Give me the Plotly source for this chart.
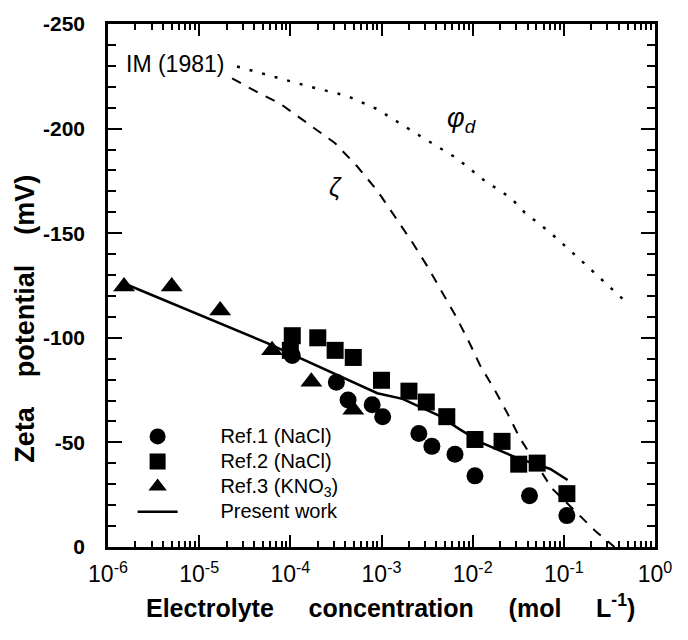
import plotly.graph_objects as go
import math

# ---- data ----
ref1_x = [1.05e-4, 3.2e-4, 4.3e-4, 7.9e-4, 1.03e-3, 2.57e-3, 3.57e-3, 6.4e-3, 1.06e-2, 4.2e-2, 0.108]
ref1_y = [-91.5, -78.8, -70.3, -68, -62.3, -54.2, -48.1, -44.3, -34, -24.5, -15]

ref2_x = [1.05e-4, 1.0e-4, 2.0e-4, 3.1e-4, 4.9e-4, 1.0e-3, 2.0e-3, 3.1e-3, 5.2e-3, 1.06e-2, 2.1e-2, 3.2e-2, 5.1e-2, 0.108]
ref2_y = [-101, -94, -100, -94, -90.6, -79.7, -74.5, -69.3, -62.3, -51.4, -50.5, -39.6, -40.1, -25.5]

ref3_x = [1.5e-6, 5.0e-6, 1.7e-5, 6.3e-5, 1.7e-4, 4.9e-4]
ref3_y = [-124.5, -124.5, -113, -94, -79, -65.6]

present_x = [1.7e-6, 5.5e-5, 9.0e-4, 1.7e-3, 4.1e-3, 7.3e-3, 1.3e-2, 3.1e-2, 7.1e-2, 0.11]
present_y = [-125, -97.6, -73.5, -70.8, -63.2, -56.1, -49.5, -42.5, -37.3, -32]

zeta_x = [2.3e-5, 4.1e-5, 7.7e-5, 1.5e-4, 3.1e-4, 5.4e-4, 9.1e-4, 1.4e-3, 2.15e-3, 3.2e-3,
          4.6e-3, 6.4e-3, 8.9e-3, 1.2e-2, 1.75e-2, 2.4e-2, 3.3e-2, 7.4e-2, 0.23, 0.36]
zeta_y = [-224, -218, -212, -203, -193, -182, -170, -158, -146, -134,
          -122, -111, -99, -87, -75, -64, -52, -28, -7, 0]

phid_x = [2.6e-5, 7.7e-5, 1.65e-4, 4.2e-4, 8.9e-4, 2.6e-3, 6.7e-3, 1.36e-2, 2.6e-2, 3.7e-2,
          7.0e-2, 0.14, 0.245, 0.47]
phid_y = [-229.7, -224, -220, -215.6, -209.4, -196.7, -185.8, -175, -167, -160,
          -150.5, -138.7, -129, -117.5]

legend_names = ["Ref.1 (NaCl)", "Ref.2 (NaCl)", "Ref.3 (KNO<sub>3</sub>)", "Present work"]

x_tickvals = [1e-6, 1e-5, 1e-4, 1e-3, 1e-2, 1e-1, 1]
x_ticktext = ["10<sup>-6</sup>", "10<sup>-5</sup>", "10<sup>-4</sup>", "10<sup>-3</sup>",
              "10<sup>-2</sup>", "10<sup>-1</sup>", "10<sup>0</sup>"]
y_tickvals = [-250, -200, -150, -100, -50, 0]
y_ticktext = ["-250", "-200", "-150", "-100", "-50", "0"]

x_minor = [m * 10.0 ** e for e in range(-6, 0) for m in range(2, 10)]
y_minor = [v for v in range(-250, 1, 10) if v % 50 != 0]

FONT = "Liberation Sans, Arial, sans-serif"
NB = "\u00a0"

x_title = "Electrolyte" + NB * 5 + "concentration" + NB * 5 + "(mol" + NB * 5 + "L<sup>-1</sup>)"
y_title = "Zeta" + NB * 4 + "potential" + NB * 4 + "(mV)"


def leg(name):
    return NB * 8 + '<span style="font-size:20px">' + name + "</span>"


fig = go.Figure()

fig.add_trace(go.Scatter(x=zeta_x, y=zeta_y, mode="lines", showlegend=False,
                         line=dict(color="black", width=2, dash="10px,9px")))
fig.add_trace(go.Scatter(x=phid_x, y=phid_y, mode="lines", showlegend=False,
                         line=dict(color="black", width=2.5, dash="3px,10px")))

fig.add_trace(go.Scatter(x=ref1_x, y=ref1_y, mode="markers", name=leg(legend_names[0]),
                         marker=dict(symbol="circle", size=17, color="black")))
fig.add_trace(go.Scatter(x=ref2_x, y=ref2_y, mode="markers", name=leg(legend_names[1]),
                         marker=dict(symbol="square", size=17, color="black")))
fig.add_trace(go.Scatter(x=ref3_x, y=ref3_y, mode="markers", name=leg(legend_names[2]),
                         marker=dict(symbol="triangle-up", size=19, color="black")))
fig.add_trace(go.Scatter(x=present_x, y=present_y, mode="lines", name=leg(legend_names[3]),
                         line=dict(color="black", width=2.5)))

fig.add_annotation(x=math.log10(1.5e-6), y=-231, text="IM (1981)", showarrow=False,
                   xanchor="left", yanchor="middle", font=dict(family=FONT, size=23, color="black"))
fig.add_annotation(x=-3.51, y=-172, text="<i>ζ</i>", showarrow=False,
                   xanchor="center", yanchor="middle", font=dict(family=FONT, size=25, color="black"))
fig.add_annotation(x=-2.30, y=-204, text="<i>φ<sub>d</sub></i>", showarrow=False,
                   xanchor="left", yanchor="middle", font=dict(family=FONT, size=27, color="black"))

# axis titles
fig.add_annotation(xref="paper", yref="paper", x=0.516, y=-0.113, text="<b>" + x_title + "</b>",
                   showarrow=False, xanchor="center", yanchor="middle",
                   font=dict(family=FONT, size=25, color="black"))
fig.add_annotation(xref="paper", yref="paper", x=-0.152, y=0.436, text="<b>" + y_title + "</b>",
                   textangle=-90, showarrow=False, xanchor="center", yanchor="middle",
                   font=dict(family=FONT, size=27, color="black"))

fig.update_layout(
    width=688, height=640,
    margin=dict(l=108, r=33, t=15, b=93),
    paper_bgcolor="white", plot_bgcolor="white",
    font=dict(family=FONT, color="black"),
    showlegend=True,
    legend=dict(x=0.045, y=0.245, xanchor="left", yanchor="top",
                font=dict(family=FONT, size=17, color="black"),
                bgcolor="rgba(0,0,0,0)", itemwidth=40, tracegroupgap=0),
    xaxis=dict(type="log", range=[-6, 0], showgrid=False, zeroline=False,
               showline=True, linecolor="black", linewidth=2.5, mirror="ticks",
               ticks="inside", ticklen=12, tickwidth=2, tickcolor="black",
               tickmode="array", tickvals=x_tickvals, ticktext=x_ticktext,
               tickfont=dict(family=FONT, size=23, color="black"),
               ticklabelstandoff=5,
               minor=dict(ticks="inside", ticklen=6, tickwidth=1.5, tickcolor="black",
                          tickmode="array", tickvals=x_minor, showgrid=False)),
    yaxis=dict(range=[0, -250], showgrid=False, zeroline=False,
               showline=True, linecolor="black", linewidth=2.5, mirror="ticks",
               ticks="inside", ticklen=14, tickwidth=2, tickcolor="black",
               tickmode="array", tickvals=y_tickvals, ticktext=y_ticktext,
               tickfont=dict(family=FONT, size=21, color="black", weight="bold"),
               ticklabelstandoff=16,
               minor=dict(ticks="inside", ticklen=8, tickwidth=1.5, tickcolor="black",
                          tickmode="array", tickvals=y_minor, showgrid=False)),
)

fig.write_html("out.html")
